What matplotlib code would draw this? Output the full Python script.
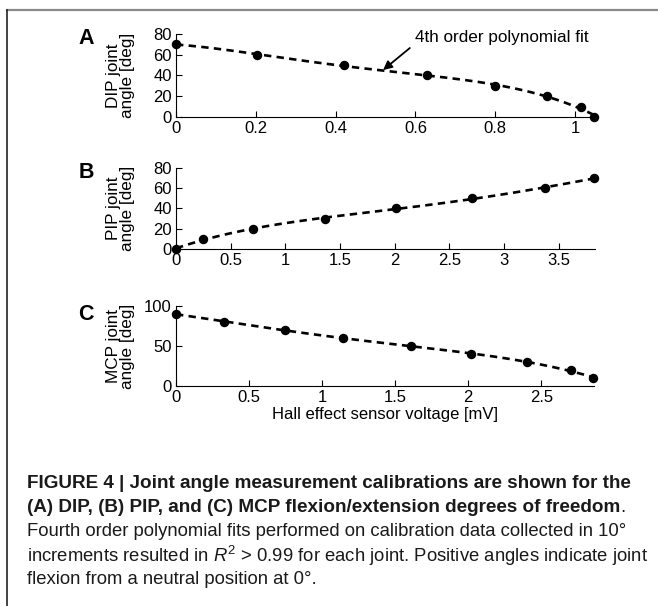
import matplotlib

matplotlib.use("Agg")
import matplotlib.pyplot as plt
import numpy as np
from matplotlib.lines import Line2D
from matplotlib.ticker import FormatStrFormatter

plt.rcParams["font.family"] = ["Liberation Sans", "DejaVu Sans"]
plt.rcParams["mathtext.fontset"] = "custom"
plt.rcParams["mathtext.rm"] = "Liberation Sans"
plt.rcParams["mathtext.it"] = "Liberation Sans:italic"

# -- Calibration data ---------------------------------------------------------
dip_volt = [0.0, 0.203, 0.42, 0.63, 0.80, 0.93, 1.015, 1.048]
dip_angle = [70, 60, 50, 40, 30, 20, 10, 0]
pip_volt = [0.0, 0.25, 0.70, 1.36, 2.01, 2.71, 3.37, 3.82]
pip_angle = [0, 10, 20, 30, 40, 50, 60, 70]
mcp_volt = [0.0, 0.33, 0.745, 1.14, 1.605, 2.02, 2.40, 2.70, 2.855]
mcp_angle = [90, 80, 70, 60, 50, 40, 30, 20, 10]

dip_xticks = [0, 0.2, 0.4, 0.6, 0.8, 1]
pip_xticks = [0, 0.5, 1, 1.5, 2, 2.5, 3, 3.5]
mcp_xticks = [0, 0.5, 1, 1.5, 2, 2.5]
dip_yticks = [0, 20, 40, 60, 80]
pip_yticks = [0, 20, 40, 60, 80]
mcp_yticks = [0, 50, 100]

W, H = 658, 606


def px_rect(left, top, right, bottom):
    return [left / W, 1 - bottom / H, (right - left) / W, (bottom - top) / H]


def fit_width(fig, t, target):
    r = fig.canvas.get_renderer()
    w = t.get_window_extent(r).width
    t.set_fontsize(t.get_fontsize() * target / w)
    return t.get_fontsize()


fig = plt.figure(figsize=(W / 100, H / 100), dpi=100)

panels = [
    ("A", "DIP joint\nangle [deg]", dip_volt, dip_angle, dip_xticks, dip_yticks,
     (0, 1.055), (0, 80), (176, 34, 597, 117), 38),
    ("B", "PIP joint\nangle [deg]", pip_volt, pip_angle, pip_xticks, pip_yticks,
     (0, 3.83), (0, 80), (176, 168, 595, 249), 172),
    ("C", "MCP joint\nangle [deg]", mcp_volt, mcp_angle, mcp_xticks, mcp_yticks,
     (0, 2.86), (0, 100), (176, 306, 594, 386), 315),
]

axes = []
for letter, ylab, xv, yv, xt, yt, xlim, ylim, rect, ly in panels:
    ax = fig.add_axes(px_rect(*rect))
    coef = np.polyfit(xv, yv, 4)
    xs = np.linspace(min(xv), max(xv), 200)
    ax.plot(xs, np.polyval(coef, xs), color="black", lw=1.9, dashes=(2.8, 2.0),
            clip_on=False)
    ax.plot(xv, yv, "o", color="black", ms=5.8, clip_on=False, zorder=3)
    ax.set_xlim(*xlim)
    ax.set_ylim(*ylim)
    ax.set_xticks(xt)
    ax.set_yticks(yt)
    ax.xaxis.set_major_formatter(FormatStrFormatter("%g"))
    ax.yaxis.set_major_formatter(FormatStrFormatter("%g"))
    for s in ("top", "right"):
        ax.spines[s].set_visible(False)
    for s in ("left", "bottom"):
        ax.spines[s].set_linewidth(0.8)
    ax.tick_params(direction="in", length=4, width=0.8, labelsize=12, pad=3)
    # right edge of the rotated two-line label sits at ~134 px
    ax.set_ylabel(ylab, fontsize=12.3, linespacing=0.92)
    ax.yaxis.set_label_coords((135 - rect[0]) / (rect[2] - rect[0]), 0.5)
    fig.text(86 / W, 1 - ly / H, letter, fontsize=15.5, fontweight="bold",
             ha="center", va="center")
    axes.append(ax)

# annotation on panel A
axes[0].annotate("", xy=(0.519, 45.3), xytext=(0.586, 66.5),
                 arrowprops=dict(arrowstyle="-|>", color="black", lw=1.3,
                                 mutation_scale=13, shrinkA=0, shrinkB=0))
axes[0].text(0.599, 77, "4th order polynomial fit", fontsize=12.3, va="center",
             clip_on=False)

fig.text(385 / W, 1 - 414 / H, "Hall effect sensor voltage [mV]", fontsize=12,
         ha="center", va="center")

# -- frame lines ---------------------------------------------------------------
fig.add_artist(Line2D([7 / W, 1], [1 - 10 / H, 1 - 10 / H], color="#8a8a8a",
                      lw=1.6, transform=fig.transFigure))
fig.add_artist(Line2D([7 / W, 7 / W], [1 - 10 / H, 0], color="#222222",
                      lw=1.2, transform=fig.transFigure))

# -- caption -------------------------------------------------------------------
cx = 27 / W
cap_color = "#1a1a1a"
b1 = fig.text(cx, 1 - 483 / H,
              "FIGURE 4 | Joint angle measurement calibrations are shown for the",
              fontsize=12, fontweight="bold", va="center", color=cap_color)
bsize = fit_width(fig, b1, 603)
b2 = fig.text(cx, 1 - 508 / H,
              "(A) DIP, (B) PIP, and (C) MCP flexion/extension degrees of freedom",
              fontsize=bsize, fontweight="bold", va="center", color=cap_color)
r4 = fig.text(cx, 1 - 556 / H,
              r"increments resulted in $\mathit{R}^2$ > 0.99 for each joint. "
              "Positive angles indicate joint",
              fontsize=12, va="center", color=cap_color)
rsize = fit_width(fig, r4, 621)
ext = b2.get_window_extent(fig.canvas.get_renderer())
fig.text(ext.x1 / W, 1 - 508 / H, ".", fontsize=rsize, va="center", color=cap_color)
fig.text(cx, 1 - 532 / H,
         "Fourth order polynomial fits performed on calibration data collected in 10°",
         fontsize=rsize, va="center", color=cap_color)
fig.text(cx, 1 - 580 / H, "flexion from a neutral position at 0°.",
         fontsize=rsize, va="center", color=cap_color)

fig.savefig("out.png", dpi=100)
